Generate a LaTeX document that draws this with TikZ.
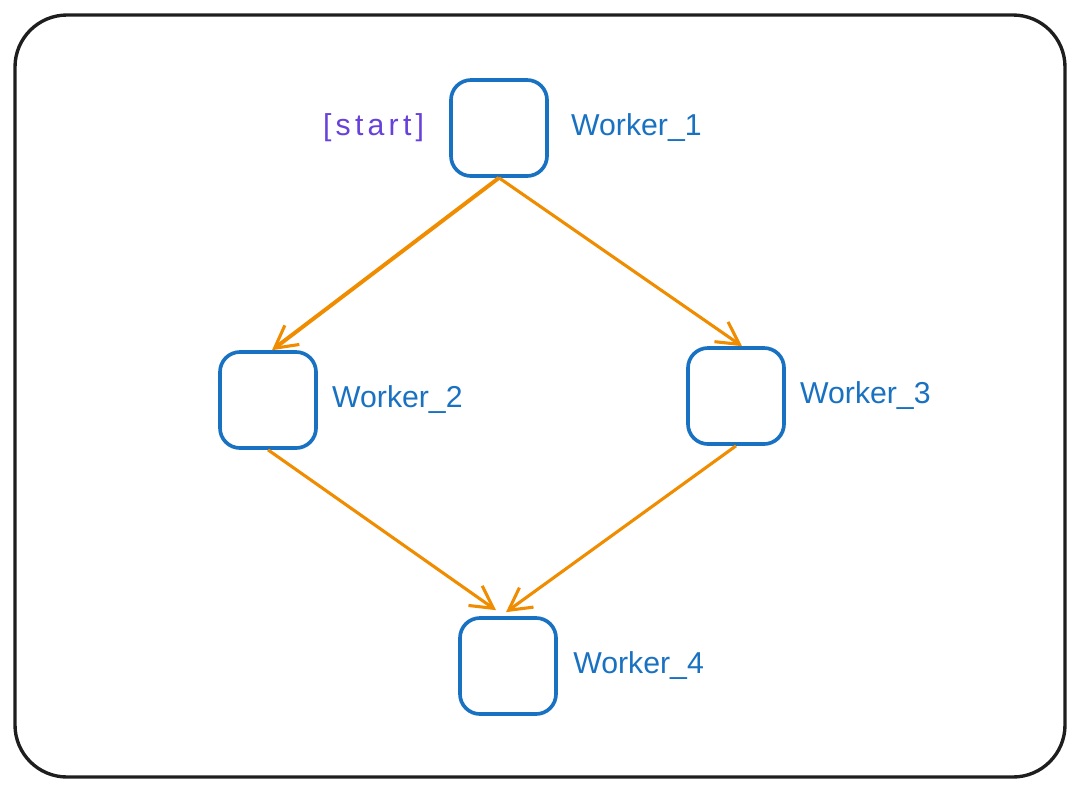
\documentclass[tikz,border=0pt]{standalone}
\usepackage{fontspec}
\setmainfont{Liberation Sans}
\usepackage{xcolor}
\usepackage{tikz}
\usetikzlibrary{positioning, arrows.meta}

\definecolor{wblue}{HTML}{1971C2}
\definecolor{worange}{HTML}{F08C00}
\definecolor{wpurple}{HTML}{6741D9}
\definecolor{wframe}{HTML}{1E1E1E}

\begin{document}
\begin{tikzpicture}[
    x=0.025cm, y=-0.025cm,
    worker/.style={draw=wblue, rectangle, rounded corners=0.5cm, line width=2.6pt, minimum size=2.4cm},
    wlabel/.style={text=wblue, inner sep=0pt, font=\fontsize{21.5}{25}\selectfont},
    tag/.style={text=wpurple, inner sep=0pt, font=\fontsize{21.5}{25}\selectfont\addfontfeatures{LetterSpace=14}},
    flow/.style={draw=worange, line width=2.2pt, -{Straight Barb[length=0.55cm, width=0.6cm, line width=2.2pt]}},
]
\useasboundingbox (0, 0) rectangle (1080, 792);
\draw[wframe, line width=2.4pt, rounded corners=1.3cm] (15, 15) rectangle (1065, 777);

\node[worker] (w1) at (499, 128) {};
\node[worker] (w2) at (268, 400) {};
\node[worker] (w3) at (736, 396) {};
\node[worker] (w4) at (508, 666) {};

\node[wlabel, right=0.55cm of w1] (l1) {Worker\_1};
\node[tag, left=0.62cm of w1] (start) {[start]};
\node[wlabel, right=0.35cm of w2] (l2) {Worker\_2};
\node[wlabel, right=0.35cm of w3] (l3) {Worker\_3};
\node[wlabel, right=0.38cm of w4] (l4) {Worker\_4};

\draw[flow, line width=2.8pt] (w1.south) -- ([xshift=0.1cm]w2.north);
\draw[flow] (w1.south) -- ([xshift=0.15cm]w3.north);
\draw[flow] (w2.south) -- ([xshift=-0.3cm, yshift=0.15cm]w4.north);
\draw[flow] (w3.south) -- ([xshift=-0.05cm, yshift=0.1cm]w4.north);
\end{tikzpicture}
\end{document}
